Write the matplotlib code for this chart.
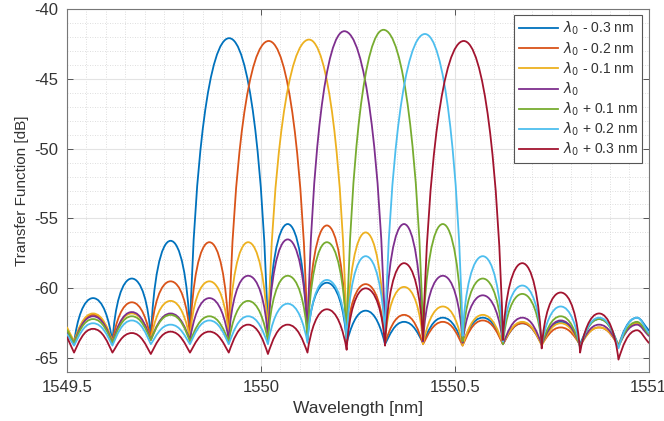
import matplotlib
matplotlib.use("Agg")
import matplotlib.pyplot as plt
from matplotlib.path import Path
from matplotlib.patches import PathPatch
from matplotlib.lines import Line2D
from matplotlib.ticker import MultipleLocator

plt.rcParams['font.family'] = ['Liberation Sans', 'DejaVu Sans']
plt.rcParams['axes.unicode_minus'] = False

# --- data ---

LABELS = [r'$\lambda_0$ - 0.3 nm', r'$\lambda_0$ - 0.2 nm', r'$\lambda_0$ - 0.1 nm',
          r'$\lambda_0$', r'$\lambda_0$ + 0.1 nm', r'$\lambda_0$ + 0.2 nm',
          r'$\lambda_0$ + 0.3 nm']
COLORS = ['#0072BD', '#D95319', '#EDB120', '#7E2F8E', '#77AC30', '#4DBEEE', '#A2142F']

# wavelength of the spectral nulls shared by all curves [nm]
NULL_X = [1549.518, 1549.617, 1549.716, 1549.817, 1549.917, 1550.018, 1550.120,
          1550.221, 1550.320, 1550.418, 1550.520, 1550.624, 1550.724, 1550.823,
          1550.922]
# wavelength of the side lobe maxima [nm]
LOBE_X = [1549.567, 1549.667, 1549.767, 1549.867, 1549.967, 1550.069, 1550.170,
          1550.270, 1550.369, 1550.469, 1550.572, 1550.674, 1550.773, 1550.872,
          1550.970]
# main lobe centre of each curve [nm]
MAIN_X = [1549.918, 1550.020, 1550.124, 1550.215, 1550.316, 1550.423, 1550.523]
MAIN_DB = [-42.1, -42.3, -42.2, -41.6, -41.5, -41.8, -42.3]

X_START, X_END = 1549.5, 1551.0
START_DB = [-62.9, -63.0, -62.8, -63.1, -63.0, -63.3, -63.5]
END_DB = [-63.0, -63.3, -63.3, -63.4, -63.3, -63.2, -63.9]

# side lobe maxima [dB]; None where the main lobe sits
LOBE_DB = [
    [-60.7, -59.3, -56.6, None, None, -55.4, -59.6, -61.6, -62.4, -62.1, -62.1, -62.5, -62.4, -62.2, -62.1],
    [-61.9, -61.0, -59.5, -56.7, None, None, -55.5, -59.7, -61.9, -62.4, -62.3, -62.5, -62.8, -62.8, -62.5],
    [-61.8, -61.8, -60.9, -59.5, -56.7, None, None, -56.0, -59.9, -61.3, -61.9, -62.4, -62.5, -62.8, -62.5],
    [-62.0, -61.7, -61.8, -60.7, -59.1, -56.5, None, None, -55.4, -59.1, -60.5, -62.1, -62.3, -62.6, -62.6],
    [-62.2, -62.0, -61.9, -62.0, -60.9, -59.1, -56.7, None, None, -55.4, -59.3, -60.4, -62.0, -62.2, -62.4],
    [-62.5, -62.3, -62.6, -62.3, -62.0, -61.1, -59.4, -57.7, None, None, -57.7, -59.8, -61.3, -62.1, -62.1],
    [-62.9, -63.2, -63.1, -63.1, -62.6, -62.6, -61.5, -60.0, -58.2, None, None, -58.2, -60.3, -61.8, -63.0],
]
# depth of the nulls [dB]; None for the null hidden under the main lobe
NULL_DB = [
    [-63.9, -63.9, -63.6, -63.2, None, -63.4, -63.7, -63.9, -64.0, -63.9, -63.9, -64.0, -64.0, -64.0, -64.1],
    [-63.8, -63.8, -63.6, -63.5, -63.3, None, -63.4, -63.7, -63.9, -64.0, -64.1, -64.0, -64.0, -64.0, -64.1],
    [-63.8, -63.8, -63.6, -63.6, -63.6, -63.4, None, -63.4, -63.8, -64.0, -64.1, -64.0, -64.1, -64.1, -64.0],
    [-63.9, -63.9, -63.7, -63.7, -63.7, -63.6, -63.3, None, -63.3, -63.8, -63.9, -64.0, -64.0, -64.1, -64.1],
    [-63.9, -63.9, -63.7, -63.8, -63.8, -63.8, -63.6, -63.4, None, -63.4, -63.8, -64.0, -64.0, -64.2, -64.2],
    [-64.1, -64.1, -64.0, -64.0, -64.0, -64.0, -63.9, -63.6, -63.4, None, -63.4, -63.8, -64.0, -64.3, -64.3],
    [-64.6, -64.6, -64.7, -64.6, -64.6, -64.7, -64.6, -64.4, -64.1, -63.7, None, -63.7, -64.3, -64.6, -65.1],
]


def lobe_points(c):
    """Ordered (x, y, kind) points of curve c: 'n' null, 'p' peak, 'e' edge."""
    pts = [(X_START, START_DB[c], 'e')]
    for k in range(len(NULL_X)):
        if NULL_DB[c][k] is not None:
            pts.append((NULL_X[k], NULL_DB[c][k], 'n'))
        else:
            pts.append((MAIN_X[c], MAIN_DB[c], 'p'))
        if LOBE_DB[c][k] is not None:
            pts.append((LOBE_X[k], LOBE_DB[c][k], 'p'))
    pts.append((X_END, END_DB[c], 'e'))
    return pts


def arch_path(pts):
    """Bezier arches between nulls and maxima: sharp dips under tall lobes,
    softer troughs where the lobes are only ripples on the noise floor."""
    verts = [pts[0][:2]]
    codes = [Path.MOVETO]
    for (x0, y0, k0), (x1, y1, k1) in zip(pts[:-1], pts[1:]):
        dx, dy = x1 - x0, y1 - y0
        if k0 == 'e' or k1 == 'e':
            c1 = (x0 + dx / 3, y0 + dy / 3 if k0 == 'e' else y0)
            c2 = (x1 - dx / 3, y1 - dy / 3)
        else:
            # sharpness: 1 for big lobes, smaller for shallow ripples
            s = min(1.0, abs(dy) / 4.0)
            ax_ = 0.32 - 0.2 * s
            ay_ = 0.25 + 0.35 * s
            if k0 == 'n':
                c1 = (x0 + ax_ * dx, y0 + ay_ * dy)
                c2 = (x1 - 0.5 * dx, y1)
            else:
                c1 = (x0 + 0.5 * dx, y0)
                c2 = (x1 - ax_ * dx, y1 - ay_ * dy)
        verts += [c1, c2, (x1, y1)]
        codes += [Path.CURVE4] * 3
    return Path(verts, codes)


def main():
    fig = plt.figure(figsize=(6.64, 4.21), dpi=100)
    ax = fig.add_axes([0.101, 0.116, 0.876, 0.863])

    handles = []
    for c, col in enumerate(COLORS):
        patch = PathPatch(arch_path(lobe_points(c)), fill=False, edgecolor=col,
                          lw=1.3, joinstyle='round', capstyle='round', zorder=3)
        ax.add_patch(patch)
        handles.append(Line2D([0], [0], color=col, lw=1.3))

    ax.set_xlim(1549.5, 1551)
    ax.set_ylim(-66, -40)
    ax.set_xticks([1549.5, 1550, 1550.5, 1551])
    ax.set_xticklabels(['1549.5', '1550', '1550.5', '1551'])
    ax.set_yticks([-65, -60, -55, -50, -45, -40])
    ax.xaxis.set_minor_locator(MultipleLocator(0.05))
    ax.yaxis.set_minor_locator(MultipleLocator(1))

    ax.set_axisbelow(True)
    ax.grid(which='major', color='#e3e3e3', lw=0.8, ls='-')
    ax.grid(which='minor', color='#d4d4d4', lw=0.6, ls=(0, (1, 2)))

    ax.tick_params(which='major', direction='in', length=4, width=0.7,
                   top=True, right=True, labelsize=12, colors='#555555',
                   labelcolor='#333333', pad=6)
    ax.tick_params(which='minor', length=0)
    for s in ax.spines.values():
        s.set_color('#777777')
        s.set_linewidth(0.8)

    ax.set_xlabel('Wavelength [nm]', fontsize=12.5, color='#333333', labelpad=4)
    ax.set_ylabel('Transfer Function [dB]', fontsize=11, color='#333333', labelpad=4)

    leg = ax.legend(handles, LABELS, loc='upper right', fontsize=10,
                    frameon=True, fancybox=False, framealpha=1,
                    edgecolor='#555555', borderaxespad=0.45, handlelength=2.8,
                    handletextpad=0.35, labelspacing=0.2, borderpad=0.35)
    leg.get_frame().set_linewidth(0.8)
    for t in leg.get_texts():
        t.set_color('#333333')

    fig.savefig('out.png', dpi=100)


if __name__ == "__main__":
    main()
